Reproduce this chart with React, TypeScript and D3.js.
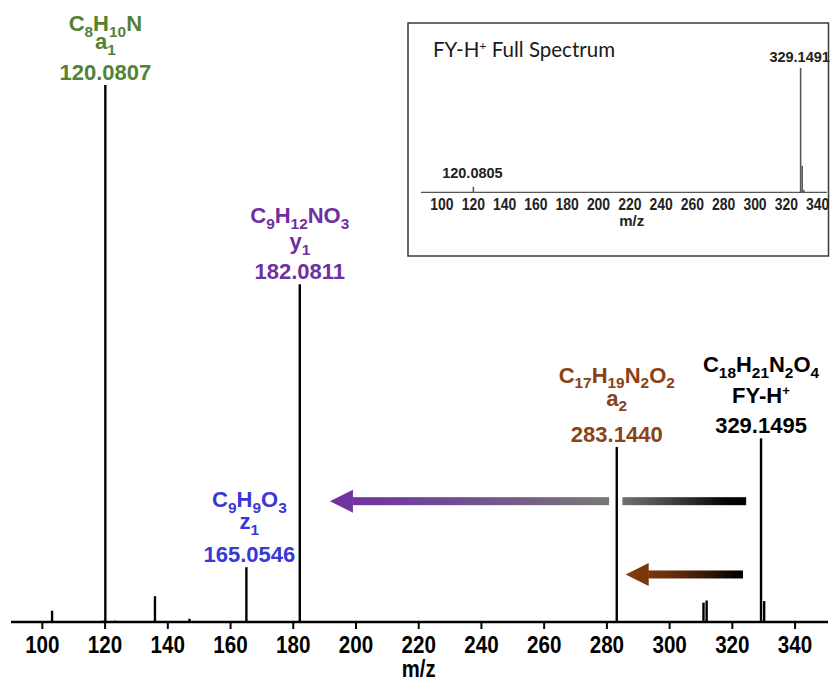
import React from 'react';
import * as d3 from 'd3';

// main MS/MS spectrum of FY-H+ (relative intensity, base peak = 100)
const peakMz = [103.1, 119.4, 120.0807, 123.2, 135.9, 146.9, 165.0546, 182.0811, 283.144, 310.8, 311.8, 329.1495, 330.15];
const peakIntensity = [2.1, 0.25, 100, 0.25, 4.8, 0.6, 10.2, 62.9, 32.6, 3.6, 4.0, 34.2, 3.9];

const xTicks = [100, 120, 140, 160, 180, 200, 220, 240, 260, 280, 300, 320, 340];

// inset: full spectrum
const insetMz = [120.0805, 329.1491, 330.15, 331.15];
const insetIntensity = [4.5, 100, 21.4, 1.9];
const insetLabels = ['120.0805', '329.1491'];

// annotated fragments
const labelMz = [120.0807, 182.0811, 165.0546, 283.144, 329.1495];
const labelFormula = ['C_{8}H_{10}N', 'C_{9}H_{12}NO_{3}', 'C_{9}H_{9}O_{3}', 'C_{17}H_{19}N_{2}O_{2}', 'C_{18}H_{21}N_{2}O_{4}'];
const labelIon = ['a_{1}', 'y_{1}', 'z_{1}', 'a_{2}', 'FY-H^{+}'];
const labelColor = ['#548235', '#7030A0', '#3838D6', '#8A4216', '#000000'];

// arrows (m/z from -> to, at relative intensity)
const purpleArrow = { from: 324.4, to: 191.7, gapStart: 280.7, gapEnd: 285.1, level: 22.5 };
const brownArrow = { from: 323.4, to: 286.0, level: 8.85 };

const W = 834;
const H = 685;

const x = d3.scaleLinear().domain([90, 350.5]).range([11, 828]);
const y = d3.scaleLinear().domain([0, 100]).range([622, 85]);

const ix = d3.scaleLinear().domain([86.6, 346]).range([421, 827]);
const iy = d3.scaleLinear().domain([0, 100]).range([192.3, 68]);

// line offsets above the peak top for formula / ion / m/z lines
const labelLineOffsets = [
  [-54, -36, -5],
  [-61, -35, -5],
  [-60, -38, -5],
  [-64, -41, -5],
  [-66, -35, -5],
];

const FONT = "'Liberation Sans', Arial, sans-serif";

// turns "C_{8}H^{+}" into tspans with sub/superscripts
function rich(s: string, size: number) {
  const out: JSX.Element[] = [];
  const re = /([_^])\{([^}]*)\}|([^_^]+)/g;
  let m: RegExpExecArray | null;
  let shift = 0;
  let k = 0;
  while ((m = re.exec(s)) !== null) {
    if (m[3]) {
      out.push(<tspan key={k++} dy={-shift} fontSize={size}>{m[3]}</tspan>);
      shift = 0;
    } else {
      const sup = m[1] === '^';
      const target = sup ? -size * 0.36 : size * 0.25;
      out.push(<tspan key={k++} dy={target - shift} fontSize={size * (sup ? 0.6 : 0.7)}>{m[2]}</tspan>);
      shift = target;
    }
  }
  return out;
}

const Arrow = ({ x0, x1, yc, fill, gap }: { x0: number; x1: number; yc: number; fill: string; gap?: [number, number] }) => {
  // x0 = tail (right), x1 = tip (left)
  const headLen = 23;
  const headHalf = 11.5;
  const shaftHalf = 4;
  const back = x1 + headLen;
  const segs = gap ? [[back, gap[0]], [gap[1], x0]] : [[back, x0]];
  return (
    <g fill={fill}>
      {segs.map(([a, b], i) => (
        <rect key={i} x={a - 0.5} y={yc - shaftHalf} width={b - a + 0.5} height={shaftHalf * 2} />
      ))}
      <polygon points={`${x1},${yc} ${back},${yc - headHalf} ${back},${yc + headHalf}`} />
    </g>
  );
};

export default function App() {
  const peaks = peakMz.map((mz, i) => ({ mz, v: peakIntensity[i] }));
  const inset = insetMz.map((mz, i) => ({ mz, v: insetIntensity[i] }));

  const pa = {
    tail: x(purpleArrow.from),
    tip: x(purpleArrow.to),
    g0: x(purpleArrow.gapStart),
    g1: x(purpleArrow.gapEnd),
    yc: y(purpleArrow.level),
  };
  const ba = { tail: x(brownArrow.from), tip: x(brownArrow.to), yc: y(brownArrow.level) };
  const pSpan = pa.tail - pa.tip;
  const bSpan = ba.tail - ba.tip;

  return (
    <svg width={W} height={H} style={{ position: 'absolute', left: 0, top: 0, background: '#fff' }} fontFamily={FONT}>
      <defs>
        <linearGradient id="gPurple" gradientUnits="userSpaceOnUse" x1={pa.tip} x2={pa.tail} y1={0} y2={0}>
          <stop offset={0} stopColor="#7030A0" />
          <stop offset={0.18} stopColor="#70409A" />
          <stop offset={0.45} stopColor="#735E86" />
          <stop offset={(pa.g0 - pa.tip) / pSpan} stopColor="#7A7878" />
          <stop offset={(pa.g1 - pa.tip) / pSpan} stopColor="#707070" />
          <stop offset={0.8} stopColor="#4a4a4a" />
          <stop offset={0.95} stopColor="#050505" />
          <stop offset={1} stopColor="#000" />
        </linearGradient>
        <linearGradient id="gBrown" gradientUnits="userSpaceOnUse" x1={ba.tip} x2={ba.tail} y1={0} y2={0}>
          <stop offset={0} stopColor="#843C0C" />
          <stop offset={0.35} stopColor="#6E320C" />
          <stop offset={0.75} stopColor="#2a1405" />
          <stop offset={(bSpan - 6) / bSpan} stopColor="#000" />
        </linearGradient>
      </defs>

      {/* main axis */}
      <line x1={x.range()[0]} x2={x.range()[1]} y1={y(0)} y2={y(0)} stroke="#000" strokeWidth={2.6} />
      {xTicks.map((t) => (
        <g key={t} transform={`translate(${x(t)},0)`}>
          <line y1={y(0)} y2={y(0) + 7} stroke="#000" strokeWidth={2} />
          <text
            transform={`translate(0,${y(0) + 31}) scale(0.86,1)`}
            textAnchor="middle"
            fontSize={24}
            fontWeight="bold"
          >
            {t}
          </text>
        </g>
      ))}
      <text
        transform={`translate(${x(220)},677) scale(0.88,1)`}
        textAnchor="middle"
        fontSize={23}
        fontWeight="bold"
      >
        m/z
      </text>

      {/* peaks */}
      {peaks.map((p, i) => (
        <line key={i} x1={x(p.mz)} x2={x(p.mz)} y1={y(0)} y2={y(p.v)} stroke="#000" strokeWidth={2.4} />
      ))}

      {/* peak labels */}
      {labelMz.map((mz, i) => {
        const idx = peakMz.indexOf(mz);
        const top = y(peakIntensity[idx]);
        const off = labelLineOffsets[i];
        const cx = x(mz) + (i === 2 ? 3 : 0);
        const lines = [labelFormula[i], labelIon[i], mz.toFixed(4)];
        return (
          <g key={mz} fill={labelColor[i]} fontWeight="bold" textAnchor="middle">
            {lines.map((s, j) => (
              <text key={j} x={cx} y={top + off[j]} fontSize={22}>
                {rich(s, 22)}
              </text>
            ))}
          </g>
        );
      })}

      {/* arrows */}
      <Arrow x0={pa.tail} x1={pa.tip} yc={pa.yc} fill="url(#gPurple)" gap={[pa.g0, pa.g1]} />
      <Arrow x0={ba.tail} x1={ba.tip} yc={ba.yc} fill="url(#gBrown)" />

      {/* inset */}
      <g>
        <rect x={408} y={23} width={420.5} height={233} fill="#fff" stroke="#3a3a3a" strokeWidth={1.5} />
        <text x={433} y={57} fontSize={20.5} fontFamily="Lato, 'Open Sans', sans-serif" fill="#1a1a1a">
          {rich('FY-H^{+} Full Spectrum', 20.5)}
        </text>
        <line x1={ix.range()[0]} x2={ix.range()[1]} y1={iy(0)} y2={iy(0)} stroke="#555" strokeWidth={1.2} />
        {inset.map((p, i) => (
          <line key={i} x1={ix(p.mz)} x2={ix(p.mz)} y1={iy(0)} y2={iy(p.v)} stroke="#5a5a5a" strokeWidth={1.6} />
        ))}
        {xTicks.map((t) => (
          <text
            key={t}
            transform={`translate(${ix(t)},${iy(0) + 17.7}) scale(0.87,1)`}
            textAnchor="middle"
            fontSize={16}
            fontWeight="bold"
            fill="#222"
          >
            {t}
          </text>
        ))}
        <text x={ix(220) + 2} y={226} textAnchor="middle" fontSize={15} fontWeight="bold" fill="#222">
          m/z
        </text>
        {insetLabels.map((s, i) => (
          <text
            key={s}
            x={ix(insetMz[i]) - 1}
            y={iy(insetIntensity[i]) - (i === 0 ? 9 : 6.5)}
            textAnchor="middle"
            fontSize={14.5}
            fontWeight="bold"
            fill="#222"
          >
            {s}
          </text>
        ))}
      </g>
    </svg>
  );
}
